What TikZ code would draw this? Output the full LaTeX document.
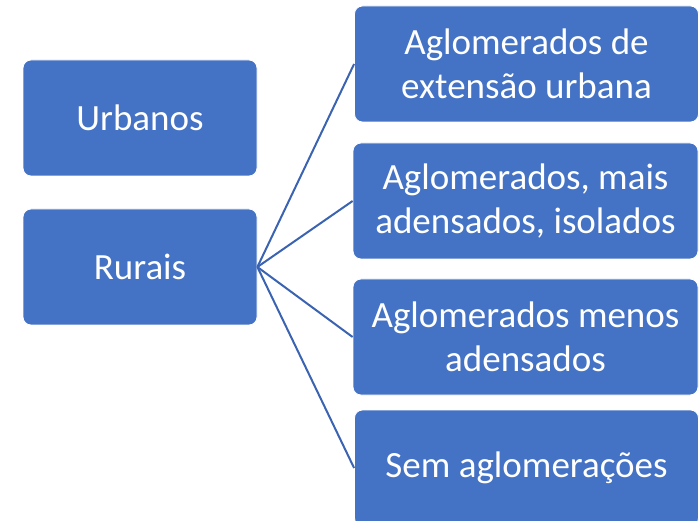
\documentclass[tikz,border=0pt]{standalone}
\usepackage{fontspec}
\setmainfont{Carlito}
\definecolor{boxblue}{HTML}{4472C4}
\definecolor{lineblue}{HTML}{3A63B2}
\begin{document}
\begin{tikzpicture}[x=1pt,y=-1pt,
  box/.style={rectangle, rounded corners=8pt, fill=boxblue, draw=white, line width=0.8pt,
    text=white, align=center, inner sep=0pt,
    font=\fontsize{37}{44}\selectfont},
  conn/.style={draw=lineblue, line width=2pt}]
\clip (0,0) rectangle (699,521);
\useasboundingbox (0,0) rectangle (699,521);
\node[box, minimum width=234pt, minimum height=116pt] (urb) at (140,118) {Urbanos};
\node[box, minimum width=234pt, minimum height=116pt] (rur) at (140,267) {Rurais};
\node[box, minimum width=344pt, minimum height=116pt] (a1) at (526.5,64) {Aglomerados de\\extensão urbana};
\node[box, minimum width=345pt, minimum height=116pt] (a2) at (525.5,201) {Aglomerados, mais\\adensados, isolados};
\node[box, minimum width=345pt, minimum height=116pt] (a3) at (525.5,337) {Aglomerados menos\\adensados};
\node[box, minimum width=344pt, minimum height=116pt] (a4) at (526.5,468) {Sem aglomerações};
\draw[conn] (rur.east) -- (a1.west);
\draw[conn] (rur.east) -- (a2.west);
\draw[conn] (rur.east) -- (a3.west);
\draw[conn] (rur.east) -- (a4.west);
\end{tikzpicture}
\end{document}
